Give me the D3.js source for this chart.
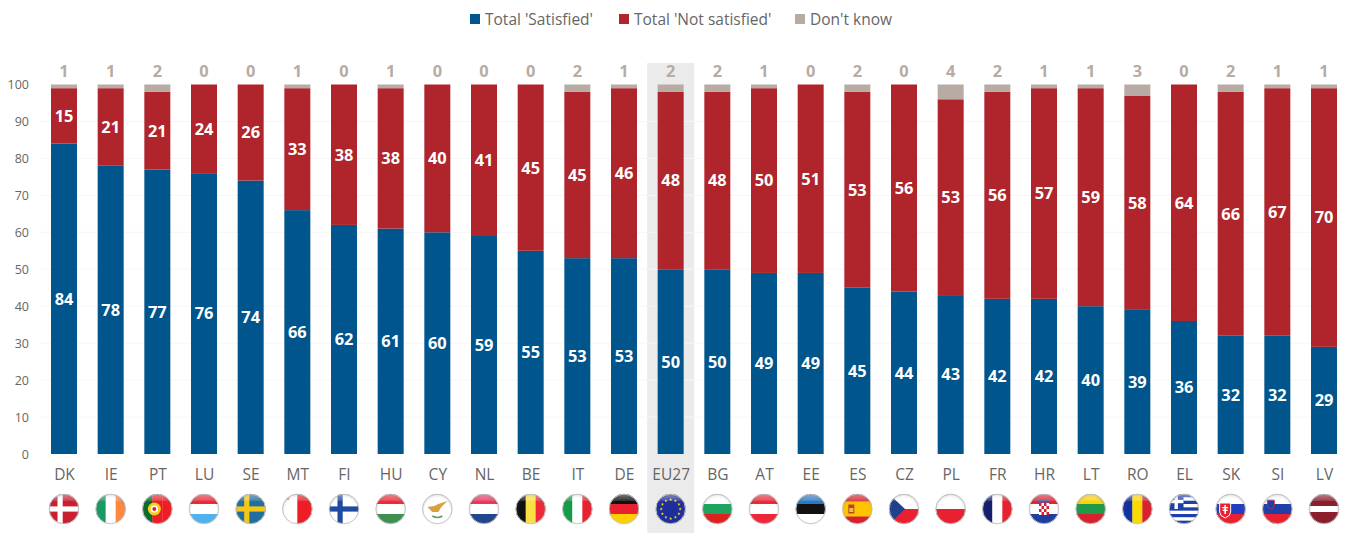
<!DOCTYPE html>
<html><head><meta charset="utf-8">
<script src="https://cdn.jsdelivr.net/npm/d3@7/dist/d3.min.js"></script>
<style>html,body{margin:0;padding:0;background:#fff;overflow:hidden}svg{display:block}</style>
</head><body><div id="chart"></div>
<script>
const categories=["DK","IE","PT","LU","SE","MT","FI","HU","CY","NL","BE","IT","DE","EU27","BG","AT","EE","ES","CZ","PL","FR","HR","LT","RO","EL","SK","SI","LV"];
const satisfied=[84,78,77,76,74,66,62,61,60,59,55,53,53,50,50,49,49,45,44,43,42,42,40,39,36,32,32,29];
const notSatisfied=[15,21,21,24,26,33,38,38,40,41,45,45,46,48,48,50,51,53,56,53,56,57,59,58,64,66,67,70];
const dontKnow=[1,1,2,0,0,1,0,1,0,0,0,2,1,2,2,1,0,2,0,4,2,1,1,3,0,2,1,1];
const seriesNames=["Total 'Satisfied'","Total 'Not satisfied'","Don't know"];
const seriesColors=["#00558c","#af252b","#b8aba3"];
const yTicks=[0,10,20,30,40,50,60,70,80,90,100];
const highlighted="EU27";
// Flag stripes: orientation and colours only
const flagStripes={
 DK:["h",["#c8202f"]],IE:["v",["#169b62","#ffffff","#ff883e"]],PT:["v",["#0a6a2c","#ee1c25","#ee1c25"]],
 LU:["h",["#ed2939","#ffffff","#4fb2ee"]],SE:["h",["#1f6f9f"]],MT:["v",["#ffffff","#ee1c25"]],FI:["h",["#ffffff"]],
 HU:["h",["#ef2b3a","#ffffff","#3f8f4f"]],CY:["h",["#ffffff"]],NL:["h",["#e8385c","#ffffff","#21468b"]],
 BE:["v",["#111111","#fae042","#ed2939"]],IT:["v",["#169b45","#ffffff","#e8202f"]],DE:["h",["#111111","#e8202f","#ffce00"]],
 EU27:["h",["#1d2f9c"]],BG:["h",["#ffffff","#1ea35f","#e0201f"]],AT:["h",["#ed2939","#ffffff","#ed2939"]],
 EE:["h",["#2a78c4","#111111","#ffffff"]],ES:["h",["#d8202a","#ffc400","#ffc400","#d8202a"]],CZ:["h",["#ffffff","#e8202f"]],
 PL:["h",["#ffffff","#e8202f"]],FR:["v",["#14206e","#ffffff","#e8202f"]],HR:["h",["#e8202f","#ffffff","#1f3f9f"]],
 LT:["h",["#fdd10a","#1e9a48","#d8202f"]],RO:["v",["#1230a0","#fdd800","#d8202f"]],
 EL:["h",["#1f3fa8","#ffffff","#1f3fa8","#ffffff","#1f3fa8","#ffffff","#1f3fa8","#ffffff","#1f3fa8"]],
 SK:["h",["#ffffff","#1f3fc0","#e8202f"]],SI:["h",["#ffffff","#1f3fa8","#e8202f"]],LV:["h",["#8a1f2b","#8a1f2b","#ffffff","#8a1f2b","#8a1f2b"]]
};
const nordicCross={DK:"#ffffff",SE:"#f5c518",FI:"#1f4a9f"};

const W=1348,H=533;
const x=d3.scalePoint().domain(categories).range([64,1324]);
const y=d3.scaleLinear().domain([0,100]).range([454,84.5]);
const barW=26,flagR=15,flagY=509;
const svg=d3.select("#chart").append("svg").attr("width",W).attr("height",H);
const FONT="'Open Sans','Noto Sans',sans-serif";
const defs=svg.append("defs");
const gloss=defs.append("radialGradient").attr("id","gloss").attr("cx","50%").attr("cy","55%").attr("r","55%");
[[0,"#fff",0.0],[0.7,"#fff",0.0],[0.9,"#000",0.10],[1,"#000",0.28]].forEach(s=>gloss.append("stop").attr("offset",s[0]).attr("stop-color",s[1]).attr("stop-opacity",s[2]));
const shine=defs.append("linearGradient").attr("id","shine").attr("x1",0).attr("y1",0).attr("x2",0).attr("y2",1);
[[0,0.42],[0.48,0.12],[0.5,0],[1,0]].forEach(s=>shine.append("stop").attr("offset",s[0]).attr("stop-color","#fff").attr("stop-opacity",s[1]));

// highlight
svg.append("rect").attr("x",x(highlighted)-23.5).attr("width",47).attr("y",63).attr("height",H-63).attr("fill","#ebebeb");

// grid
svg.append("g").selectAll("line").data(yTicks.filter(d=>d>0&&d<100)).join("line")
 .attr("x1",40).attr("x2",1340).attr("y1",d=>y(d)).attr("y2",d=>y(d)).attr("stroke","#f6f6f6").attr("stroke-width",1);

// y axis
const yAxis=d3.axisLeft(y).tickValues(yTicks).tickSize(0).tickPadding(0);
const yg=svg.append("g").attr("transform","translate(29,0)").call(yAxis);
yg.select(".domain").remove();
yg.selectAll("text").attr("font-family",FONT).attr("font-size",12.5).attr("fill","#666").attr("x",0);

// bars
const rows=categories.map((c,i)=>({c,s:satisfied[i],n:notSatisfied[i],d:dontKnow[i]}));
const stacked=d3.stack().keys(["s","n","d"])(rows);
const gs=svg.append("g").selectAll("g").data(stacked).join("g").attr("fill",(d,i)=>seriesColors[i]);
gs.selectAll("rect").data(d=>d).join("rect")
 .attr("x",d=>x(d.data.c)-barW/2).attr("width",barW)
 .attr("y",d=>y(d[1])).attr("height",d=>y(d[0])-y(d[1]));

// value labels
const labels=svg.append("g").attr("font-family",FONT).attr("font-weight","bold").attr("font-size",16.4).attr("text-anchor","middle");
stacked.slice(0,2).forEach(st=>{
 labels.append("g").attr("fill","#fff").selectAll("text").data(st).join("text")
  .attr("x",d=>x(d.data.c)).attr("y",d=>y((d[0]+d[1])/2)).attr("dy","0.36em").text(d=>d[1]-d[0]);
});
labels.append("g").attr("fill",seriesColors[2]).selectAll("text").data(rows).join("text")
 .attr("x",d=>x(d.c)).attr("y",71).attr("dy","0.36em").text(d=>d.d);

// x axis
const xAxis=d3.axisBottom(x).tickSize(0).tickPadding(0);
const xg=svg.append("g").attr("transform","translate(0,469)").call(xAxis);
xg.select(".domain").remove();
xg.selectAll("text").attr("font-family",FONT).attr("font-size",15.5).attr("fill","#666").attr("y",0);

// flags
const flags=svg.append("g");
function star(g,cx,cy,r,fill){
 const p=d3.range(10).map(i=>{const a=-Math.PI/2+i*Math.PI/5,q=i%2?r*0.4:r;return [cx+q*Math.cos(a),cy+q*Math.sin(a)];});
 g.append("polygon").attr("points",p.join(" ")).attr("fill",fill);
}
categories.forEach((c,i)=>{
 const id="clip"+c;
 defs.append("clipPath").attr("id",id).append("circle").attr("r",flagR);
 const g=flags.append("g").attr("transform",`translate(${x(c)},${flagY})`);
 const f=g.append("g").attr("clip-path",`url(#${id})`);
 const [dir,cols]=flagStripes[c];
 const band=d3.scaleBand().domain(d3.range(cols.length)).range([-flagR,flagR]);
 cols.forEach((col,k)=>{
  const r=f.append("rect").attr("fill",col);
  if(dir==="h") r.attr("x",-flagR).attr("width",2*flagR).attr("y",band(k)).attr("height",band.bandwidth()+.3);
  else r.attr("y",-flagR).attr("height",2*flagR).attr("x",band(k)).attr("width",band.bandwidth()+.3);
 });
 const rect=(a,b,w,h,fill)=>f.append("rect").attr("x",a).attr("y",b).attr("width",w).attr("height",h).attr("fill",fill);
 if(nordicCross[c]){rect(-15,-2.6,30,5.2,nordicCross[c]);rect(-6.5,-15,5.2,30,nordicCross[c]);}
 if(c==="PT"){f.append("circle").attr("cx",-3).attr("r",6.5).attr("fill","#f5d020");f.append("circle").attr("cx",-3).attr("r",3.6).attr("fill","#fff");f.append("circle").attr("cx",-3).attr("r",2).attr("fill","#d8202f");}
 if(c==="MT"){rect(-11,-12,3,3,"#d0a0a0");}
 if(c==="CY"){f.append("path").attr("d","M-10 -2 L-3 -3 L1 -5 L10 -8 L4 -2 L1 3 L-5 3 Z").attr("fill","#d6a23f");f.append("path").attr("d","M-5 7 Q0 10 5 7").attr("stroke","#5f9a5f").attr("stroke-width",1.5).attr("fill","none");}
 if(c==="EU27"){d3.range(12).forEach(k=>{const a=k*Math.PI/6;star(f,9.5*Math.cos(a),9.5*Math.sin(a),1.7,"#ffd617");});}
 if(c==="ES"){rect(-9,-4.5,6,9,"#b8442a");rect(-8,-1,4,4,"#e8c050");}
 if(c==="CZ"){f.append("polygon").attr("points","-15,-15 1,0 -15,15").attr("fill","#1f3f8f");}
 if(c==="HR"){rect(-5,-6,10,12,"#fff");d3.range(4).forEach(a=>d3.range(4).forEach(b=>{if((a+b)%2===0)rect(-5+a*2.5,-6+b*3,2.5,3,"#d8202f");}));rect(-6,-10,12,3.5,"#3f5fb0");}
 if(c==="EL"){rect(-15,-15,14.5,15,"#1f3fa8");rect(-9.5,-15,3.4,15,"#fff");rect(-15,-9.2,14.5,3.4,"#fff");}
 if(c==="SK"){f.append("path").attr("d","M-11 -6 H0 V3 Q0 7 -5.5 9 Q-11 7 -11 3 Z").attr("fill","#e8202f").attr("stroke","#fff").attr("stroke-width",1);rect(-6.3,-4,1.6,9,"#fff");rect(-8.5,-2,6,1.3,"#fff");rect(-8,0.7,5,1.3,"#fff");}
 if(c==="SI"){f.append("path").attr("d","M-10 -9 H-3 V-4 Q-3 -1 -6.5 0 Q-10 -1 -10 -4 Z").attr("fill","#1f3fa8").attr("stroke","#e8202f").attr("stroke-width",.8);}
 g.append("circle").attr("r",flagR).attr("fill","url(#gloss)");
 g.append("ellipse").attr("cy",-7.5).attr("rx",flagR-1.5).attr("ry",7).attr("fill","url(#shine)");
 g.append("circle").attr("r",flagR-.2).attr("fill","none").attr("stroke","#c4c4c4").attr("stroke-width",1);
});

// legend
const legendX=[470,619,795];
const lg=svg.append("g").selectAll("g").data(seriesNames).join("g").attr("transform",(d,i)=>`translate(${legendX[i]},14)`);
lg.append("rect").attr("width",10).attr("height",10).attr("fill",(d,i)=>seriesColors[i]);
lg.append("text").attr("x",15).attr("y",5).attr("dy","0.36em").attr("font-family",FONT).attr("font-size",15.5).attr("fill","#666").text(d=>d);
</script></body></html>
